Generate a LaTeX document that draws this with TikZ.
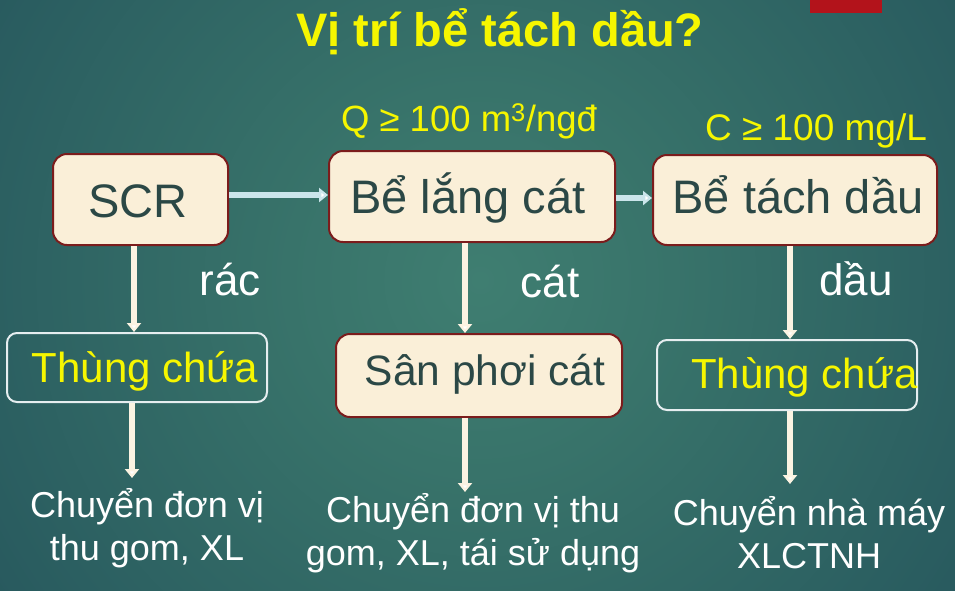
\documentclass[tikz,border=0pt]{standalone}
\usepackage{fontspec}
\setmainfont{Liberation Sans}
\usetikzlibrary{arrows.meta,calc}
\definecolor{bgA}{HTML}{3F7E71}
\definecolor{bgB}{HTML}{38736A}
\definecolor{bgC}{HTML}{2A5D60}
\definecolor{bgD}{HTML}{1F4955}
\definecolor{bgE}{HTML}{17394A}
\definecolor{bgF}{HTML}{143346}
\definecolor{boxline}{HTML}{7B1C1C}
\definecolor{boxfill}{HTML}{FAEFD8}
\definecolor{boxtxt}{HTML}{2B4846}
\definecolor{ttl}{HTML}{F6F600}
\definecolor{hshaft}{HTML}{CBE5EB}
\definecolor{vshaft}{HTML}{FBF3E2}
\definecolor{redtab}{HTML}{B3131B}
\definecolor{outl}{HTML}{E6EEF0}
\pgfdeclareradialshading{bgshade}{\pgfpoint{0bp}{0bp}}{color(0bp)=(bgA); color(8bp)=(bgB); color(22bp)=(bgC); color(34bp)=(bgD); color(44bp)=(bgE); color(50bp)=(bgF)}
\begin{document}
\begin{tikzpicture}[x=1pt,y=-1pt,
  solid box/.style={draw=boxline,line width=2pt,fill=boxfill,rounded corners=14pt,inner sep=0pt},
  open box/.style={draw=outl,line width=2pt,rounded corners=10pt,inner sep=0pt},
  boxlabel/.style={text=boxtxt,inner sep=0pt,anchor=base,font=\fontsize{47}{50}\selectfont},
  binlabel/.style={text=ttl,inner sep=0pt,anchor=base,font=\fontsize{42}{46}\selectfont},
  flowlabel/.style={text=white,inner sep=0pt,anchor=base,font=\fontsize{44}{46}\selectfont},
  condlabel/.style={text=ttl,inner sep=0pt,anchor=base,font=\fontsize{36.5}{40}\selectfont},
  endlabel/.style={text=white,inner sep=0pt,align=center,anchor=base,font=\fontsize{36}{43}\selectfont},
  harrow/.style={draw=hshaft,line width=6pt,-{Triangle[width=14pt,length=9pt,fill=white]}},
  varrow/.style={draw=vshaft,line width=6pt,-{Triangle[width=14pt,length=9pt,fill=white]}}
]
\useasboundingbox (0,0) rectangle (955,590);
\begin{scope}
  \clip (0,0) rectangle (955,590);
  \shade[shading=bgshade] (-120,-320) rectangle (1080,880);
\end{scope}
\fill[redtab] (810,0) rectangle (882,13);

% title
\node[text=ttl,inner sep=0pt,anchor=base,font=\fontsize{47}{50}\selectfont\bfseries] (title) at (500,46) {Vị trí bể tách dầu?};

% conditions
\node[condlabel] (q) at (469,131) {Q ≥ 100 m\textsuperscript{3}/ngđ};
\node[condlabel,font=\fontsize{37}{40}\selectfont] (c) at (816,140) {C ≥ 100 mg/L};

% top row boxes
\node[solid box,minimum width=175pt,minimum height=91pt] (b1) at (140.5,199.5) {};
\node[boxlabel] (t1) at (138,217) {SCR};
\node[solid box,minimum width=286pt,minimum height=91pt] (b2) at (472,196.5) {};
\node[boxlabel] (t2) at (468,213) {Bể lắng cát};
\node[solid box,minimum width=284pt,minimum height=90pt] (b3) at (795,200) {};
\node[boxlabel] (t3) at (798,213) {Bể tách dầu};

% second row boxes
\node[open box,minimum width=260pt,minimum height=69pt] (c1) at (137,367.5) {};
\node[binlabel] (u1) at (145,382) {Thùng chứa};
\node[solid box,minimum width=286pt,minimum height=83pt] (c2) at (479,375.5) {};
\node[boxlabel,font=\fontsize{42.5}{46}\selectfont] (u2) at (485,385) {Sân phơi cát};
\node[open box,minimum width=260pt,minimum height=70pt] (c3) at (787,375) {};
\node[binlabel] (u3) at (804.5,388) {Thùng chứa};

% flow labels
\node[flowlabel] (l1) at (230,295) {rác};
\node[flowlabel] (l2) at (550,297) {cát};
\node[flowlabel] (l3) at (856,295) {dầu};

% end texts (base = last line)
\node[endlabel] (e1) at (147,560) {Chuyển đơn vị\\thu gom, XL};
\node[endlabel] (e2) at (473,565) {Chuyển đơn vị thu\\gom, XL, tái sử dụng};
\node[endlabel] (e3) at (809,568) {Chuyển nhà máy\\XLCTNH};

% end points
\coordinate (d1) at (132,478);
\coordinate (d2) at (465,492);
\coordinate (d3) at (790,484);

% horizontal arrows
\draw[harrow] (b1.east |- 0,195) -- (b2.west |- 0,195);
\draw[harrow] (b2.east |- 0,198) -- (b3.west |- 0,198);

% vertical arrows
\draw[varrow] (134,0 |- b1.south) -- (134,0 |- c1.north);
\draw[varrow] (132,0 |- c1.south) -- (d1);
\draw[varrow] (465,0 |- b2.south) -- (465,0 |- c2.north);
\draw[varrow] (465,0 |- c2.south) -- (d2);
\draw[varrow] (790,0 |- b3.south) -- (790,0 |- c3.north);
\draw[varrow] (790,0 |- c3.south) -- (d3);
\end{tikzpicture}
\end{document}
